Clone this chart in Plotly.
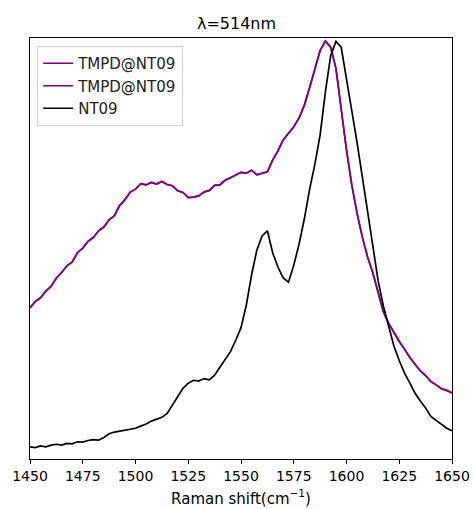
import plotly.graph_objects as go

# Raman shift axis (cm^-1), sampled every 2.5 cm^-1
shift = [1450 + 2.5 * i for i in range(81)]

# Normalised intensity, TMPD@NT09
tmpd_nt09 = [
    0.359, 0.374, 0.383, 0.399, 0.410, 0.430, 0.443, 0.459, 0.468, 0.490,
    0.501, 0.517, 0.526, 0.542, 0.551, 0.568, 0.578, 0.602, 0.616, 0.634,
    0.641, 0.654, 0.651, 0.657, 0.653, 0.659, 0.652, 0.649, 0.637, 0.633,
    0.621, 0.622, 0.625, 0.634, 0.638, 0.650, 0.651, 0.662, 0.668, 0.674,
    0.681, 0.679, 0.686, 0.675, 0.678, 0.682, 0.710, 0.732, 0.758, 0.774,
    0.789, 0.810, 0.840, 0.882, 0.928, 0.970, 0.993, 0.978, 0.928, 0.830,
    0.734, 0.651, 0.584, 0.527, 0.480, 0.442, 0.397, 0.349, 0.322, 0.300,
    0.279, 0.261, 0.241, 0.225, 0.209, 0.198, 0.184, 0.176, 0.167, 0.163,
    0.157,
]

# Normalised intensity, NT09
nt09 = [
    0.029, 0.027, 0.031, 0.029, 0.033, 0.035, 0.033, 0.037, 0.036, 0.041,
    0.040, 0.044, 0.046, 0.045, 0.051, 0.060, 0.064, 0.066, 0.069, 0.071,
    0.073, 0.078, 0.083, 0.090, 0.094, 0.099, 0.108, 0.128, 0.147, 0.168,
    0.180, 0.187, 0.185, 0.191, 0.188, 0.199, 0.218, 0.236, 0.255, 0.282,
    0.312, 0.365, 0.437, 0.496, 0.530, 0.542, 0.490, 0.456, 0.430, 0.420,
    0.460, 0.510, 0.570, 0.640, 0.700, 0.770, 0.872, 0.958, 0.992, 0.978,
    0.905, 0.825, 0.752, 0.670, 0.590, 0.508, 0.423, 0.363, 0.312, 0.268,
    0.234, 0.204, 0.181, 0.156, 0.138, 0.121, 0.101, 0.091, 0.081, 0.073,
    0.067,
]

x_ticks = [1450, 1475, 1500, 1525, 1550, 1575, 1600, 1625, 1650]

PURPLE = "#800080"
FONT = "DejaVu Sans"

fig = go.Figure()
fig.add_trace(go.Scatter(x=shift, y=tmpd_nt09, mode="lines", name="TMPD@NT09",
                         legendgroup="a", line=dict(color=PURPLE, width=1.7)))
fig.add_trace(go.Scatter(x=shift, y=tmpd_nt09, mode="lines", name="TMPD@NT09",
                         legendgroup="b", line=dict(color=PURPLE, width=1.7)))
fig.add_trace(go.Scatter(x=shift, y=nt09, mode="lines", name="NT09",
                         legendgroup="c", line=dict(color="black", width=1.7)))

fig.update_layout(
    width=473, height=509,
    margin=dict(l=30, r=21, t=38, b=50),
    paper_bgcolor="white", plot_bgcolor="white",
    font=dict(family=FONT, size=14, color="black"),
    title=dict(text="λ=514nm", x=0.5, xanchor="center", y=0.955, yanchor="middle",
               font=dict(family=FONT, size=16, color="black")),
    showlegend=True,
    legend=dict(x=0.017, y=0.981, xanchor="left", yanchor="top",
                tracegroupgap=0,
                bgcolor="rgba(255,255,255,0.8)", bordercolor="#d0d0d0", borderwidth=1,
                font=dict(family=FONT, size=15, color="#222")),
    xaxis=dict(range=[1450, 1650], tickvals=x_ticks, ticks="outside", ticklen=4,
               tickcolor="black", showgrid=False, zeroline=False, automargin=False,
               showline=True, linecolor="black", linewidth=1, mirror=True,
               tickfont=dict(family=FONT, size=14),
               title=dict(text="Raman shift(cm<sup>−1</sup>)", standoff=10,
                          font=dict(family=FONT, size=15))),
    yaxis=dict(range=[0, 1], showticklabels=False, ticks="", showgrid=False,
               zeroline=False, showline=True, linecolor="black", linewidth=1,
               mirror=True, automargin=False),
)

fig.write_html("out.html")
